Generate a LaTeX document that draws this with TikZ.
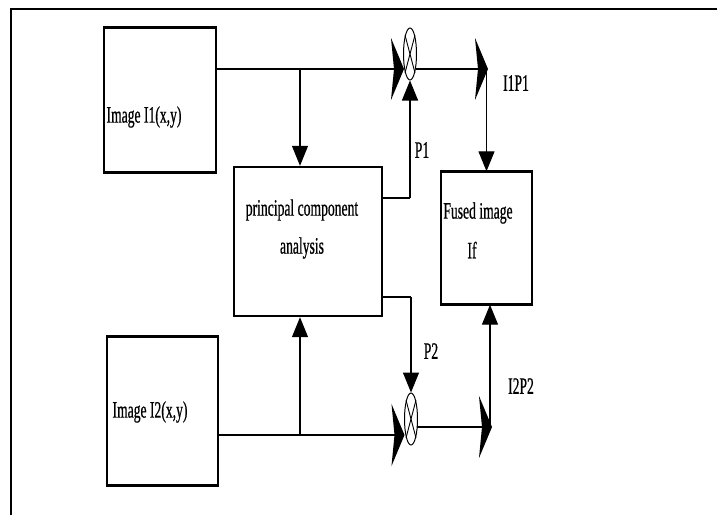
\documentclass[tikz,border=0pt]{standalone}
\usepackage{fontspec}
\setmainfont{Liberation Serif}
\newfontfamily\cond[FakeStretch=0.58,FakeBold=0.6]{Liberation Serif}
\usetikzlibrary{arrows.meta,shapes.geometric}
\begin{document}
\begin{tikzpicture}[x=1pt,y=-1pt,
 box/.style={draw,line width=1.4pt,inner sep=0},
 lbl/.style={font=\cond\fontsize{23.5}{23.5}\selectfont,inner sep=0},
 thick line/.style={line width=2.8pt},
 thin line/.style={line width=1.3pt},
 big/.style={-{Stealth[length=13pt,width=62pt,inset=3pt]}},
 small/.style={-{Triangle[length=20pt,width=16pt]}},
 mult/.style={draw,ellipse,minimum width=13pt,minimum height=52pt,inner sep=0,line width=1pt}]
\useasboundingbox (0,0) rectangle (717,515);
% frame
\draw[line width=2.5pt] (11,515) -- (11,9) -- (717,9);

% boxes
\node[box,minimum width=112pt,minimum height=144pt] (i1) at (160,100) {};
\node[box,minimum width=111pt,minimum height=148pt] (i2) at (162.5,411) {};
\node[box,line width=2.4pt,minimum width=148pt,minimum height=149pt] (pca) at (308,241.5) {};
\node[box,minimum width=91pt,minimum height=132pt] (f) at (486.5,238) {};
\foreach \b in {i1,i2,f}{
  \draw[thick line] (\b.north west) -- (\b.north east);
  \draw[thick line] (\b.south west) -- (\b.south east);
}

% multipliers
\node[mult] (m1) at (410,54) {};
\node[mult] (m2) at (411,419) {};
\foreach \m in {m1,m2}{
  \draw[line width=0.9pt] (\m.north east) -- (\m.south west);
  \draw[line width=0.9pt] (\m.north west) -- (\m.south east);
}

% texts
\node[lbl] (t1) at (144,117) {Image I1(x,y)};
\node[lbl] (t2) at (150,412) {Image I2(x,y)};
\node[lbl] (t3) at (302,210) {principal component};
\node[lbl] (t4) at (302,248) {analysis};
\node[lbl] (t5) at (478,213) {Fused image};
\node[lbl] (t6) at (472,250) {If};
\node[lbl] (t7) at (516,83) {I1P1};
\node[lbl] (t8) at (422,150) {P1};
\node[lbl] (t9) at (431,351) {P2};
\node[lbl] (t10) at (521,386) {I2P2};

% junction coordinates
\coordinate (j1) at (300,69);
\coordinate (m1in) at (404,69);
\coordinate (m1out) at (416,69);
\coordinate (a1) at (488,69);
\coordinate (d1) at (486.5,69);
\coordinate (p1c) at (410,198);
\coordinate (p2c) at (411,297);
\coordinate (j2) at (300,435);
\coordinate (m2in) at (404.5,435);
\coordinate (m2out) at (417,427);
\coordinate (a2) at (492,427);
\coordinate (u2) at (490,427);

% connectors top
\draw[thick line] (i1.east |- j1) -- (j1);
\draw[thick line,big] (j1) -- (m1in);
\draw[thick line,big] (m1out) -- (a1);
\draw[thin line,small] (j1) -- (j1 |- pca.north);
\draw[thin line,small] (d1) -- (f.north);
\draw[thick line] (pca.east |- p1c) -- (p1c);
\draw[thin line,small] (p1c) -- (m1.south);

% connectors bottom
\draw[thick line] (i2.east |- j2) -- (j2);
\draw[thick line,big] (j2) -- (m2in);
\draw[thin line,small] (j2) -- (j2 |- pca.south);
\draw[thick line] (pca.east |- p2c) -- (p2c);
\draw[thin line,small] (p2c) -- (m2.north);
\draw[thick line,big] (m2out) -- (a2);
\draw[thin line,small] (u2) -- (u2 |- f.south);
\end{tikzpicture}
\end{document}
